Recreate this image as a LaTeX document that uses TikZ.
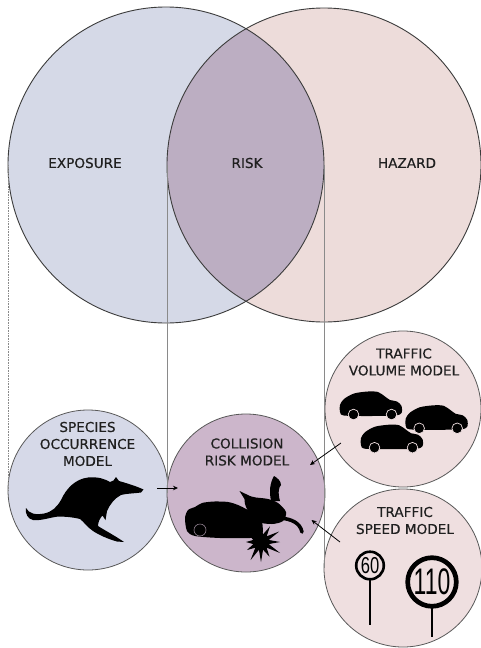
\documentclass[tikz,border=0pt]{standalone}
\usepackage{fontspec}
\usepackage{graphicx}
\setmainfont{DejaVu Sans}
\newfontfamily\lblfont[FakeBold=0.35]{DejaVu Sans}
\newfontfamily\signfont{Liberation Sans}
\usetikzlibrary{arrows.meta}

\definecolor{expo}{HTML}{D5D9E7}
\definecolor{haz}{HTML}{EDDCDA}
\definecolor{lens}{HTML}{BCAEC2}
\definecolor{specfill}{HTML}{D6D9E8}
\definecolor{collfill}{HTML}{CCB6CB}
\definecolor{trafill}{HTML}{EFDFE0}
\definecolor{ink}{HTML}{202020}
\definecolor{rim}{HTML}{3C3C3C}
\definecolor{guide}{HTML}{8A8A8A}

\begin{document}
\begin{tikzpicture}[x=1pt,y=-1pt,
  ring/.style={circle, inner sep=0pt, outer sep=0pt},
  bigline/.style={draw=rim, line width=0.9pt},
  smallc/.style={ring, draw=rim!85, line width=0.8pt},
  lbl/.style={font=\lblfont\fontsize{13.6}{17}\selectfont, text=ink, align=center, inner sep=0pt},
  guideline/.style={draw=guide, line width=0.6pt},
  feed/.style={draw=black, line width=0.8pt, -{Stealth[length=5pt,width=4.5pt]}},
  signtxt/.style={inner sep=0pt, text=black},
  limb/.style={draw=black, line cap=round},
  car/.pic={
    \fill[black] plot[smooth cycle, tension=0.5] coordinates {
      (-31,0) (-27,-6) (-17,-11.5) (-3,-13.5) (7,-13) (14,-8.5) (19,-5)
      (26,-3.5) (30.5,1) (30.5,8) (24,10.5) (-2,11) (-27,10.5) (-31,7)};
    \filldraw[fill=black, draw=trafill, line width=0.7pt] (-17.5,9.5) circle (5.3pt);
    \filldraw[fill=black, draw=trafill, line width=0.7pt] (20.5,9.5) circle (5.3pt);
  }]
\useasboundingbox (0,0) rectangle (481,648);
\fill[white] (0,0) rectangle (481,648);

% --- the two large overlapping circles ---
\node[ring, fill=expo, minimum size=316pt] (exposure) at (166,165) {};
\node[ring, fill=haz, minimum size=314pt] (hazard) at (324,165) {};
\begin{scope}
  \clip (166,165) circle (158pt);
  \fill[lens] (324,165) circle (157pt);
\end{scope}
\draw[bigline] (exposure.center) circle (158pt);
\draw[bigline] (hazard.center) circle (157pt);

\node[lbl] (tExposure) at (85,163) {EXPOSURE};
\node[lbl] (tRisk) at (247,163) {RISK};
\node[lbl] (tHazard) at (407,163) {HAZARD};

% --- model circles ---
\node[smallc, fill=specfill, minimum size=160pt] (species) at (88,490) {};
\node[smallc, fill=collfill, minimum size=158pt] (collision) at (246,493) {};
\node[smallc, fill=trafill, minimum size=156pt] (volume) at (403,409) {};
\node[smallc, fill=trafill, minimum size=158pt] (speed) at (403,568) {};

% --- guide lines from the large circles down to the models ---
\draw[guideline, densely dotted] (exposure.west) -- (species.west);
\draw[guideline] (hazard.west) -- (collision.west);
\draw[guideline] (exposure.east) -- (speed.west);

\node[lbl] (tSpecies) at (87.5,444) {SPECIES\\OCCURRENCE\\MODEL};
\node[lbl] (tCollision) at (247,452) {COLLISION\\RISK MODEL};
\node[lbl] (tVolume) at (404,362) {TRAFFIC\\VOLUME MODEL};
\node[lbl] (tSpeed) at (405,520.5) {TRAFFIC\\SPEED MODEL};

% --- kangaroo ---
\fill[black] (26,508)
  .. controls (29,514) and (36,515) .. (44,513.5)
  .. controls (52,512) and (57,507) .. (61,500)
  .. controls (66,489) and (75,479) .. (88,477.5)
  .. controls (98,476.5) and (105,479) .. (110,482)
  -- (113.5,480.5) -- (116,477) -- (119,481)
  .. controls (126,483) and (136,486) .. (143.5,489.5)
  -- (141,492.5)
  .. controls (134,493.5) and (126,493.5) .. (121,495)
  .. controls (115,498) and (110,504) .. (107,511)
  -- (105.5,520) -- (102.5,515.5)
  .. controls (100,518) and (98,522) .. (98,526)
  .. controls (104,530) and (114,535) .. (124,542)
  -- (117,541.5)
  .. controls (108,539) and (99,535) .. (93,531)
  .. controls (87,527) and (84,522) .. (80,519)
  .. controls (72,517) and (64,516.5) .. (58,516.5)
  .. controls (48,518) and (40,521) .. (33,520)
  .. controls (28,519) and (25,514) .. (26,508) -- cycle;

% --- collision scene: car, burst and tumbling animal ---
\fill[black] plot[smooth cycle, tension=0.45] coordinates {
  (185,518) (188,510) (195,507) (202,503) (214,501.5) (228,502)
  (238,505) (248,510) (256,515) (262,522) (262,535) (250,538)
  (220,538) (195,536) (187,531)};
\filldraw[fill=black, draw=collfill!70!black, line width=0.6pt] (200,530) circle (6pt);
\fill[black, shift={(261,542)}]
  (0:19) -- (15:8) -- (30:22) -- (45:8) -- (60:17) -- (75:8) -- (90:20)
  -- (105:8) -- (120:21) -- (135:8) -- (150:16) -- (165:8) -- (180:15)
  -- (195:8) -- (210:14) -- (225:8) -- (240:16) -- (255:8) -- (270:15)
  -- (285:8) -- (300:18) -- (315:8) -- (330:21) -- (345:8) -- cycle;
% tumbling animal: body, head, tail and legs
\fill[black] plot[smooth cycle, tension=0.5] coordinates {
  (246,496) (256,497.5) (268,499) (278,503) (286,512) (283,521)
  (272,524) (258,522) (250,514) (245,504)};
\fill[black] (239.5,491) -- (251,496.5) -- (247,503) -- cycle;
\fill[black] (271,501) .. controls (269,491) and (270,483) .. (274,476)
  .. controls (277.5,478) and (281,481) .. (281,485)
  .. controls (279,487) and (277.5,492) .. (280,501) -- cycle;
\draw[limb, line width=3.6pt] (280,518) .. controls (292,519) and (300,523) .. (302,532);
\draw[limb, line width=3pt] (256,519) -- (248,532);

% --- traffic volume: three cars ---
\pic at (371,405) {car};
\pic at (436.7,418.8) {car};
\pic at (392,438.2) {car};

% --- speed signs ---
\draw[black, line width=1.2pt] (370,579) -- (370,625);
\draw[black, line width=2.6pt] (370,565.5) circle (13.8pt);
\node[signtxt, font=\signfont\fontsize{23}{23}\selectfont] (n60) at (370,565.5) {\scalebox{0.72}[1]{60}};
\draw[black, line width=2pt] (432,607) -- (432,637);
\draw[black, line width=4.7pt] (432,582) circle (24.3pt);
\node[signtxt, font=\signfont\fontsize{37}{37}\selectfont] (n110) at (432,582) {\scalebox{0.62}[1]{110}};

% --- feeds into the collision risk model ---
\coordinate (fromSpecies) at (157,488);
\coordinate (intoCollW) at (178,488);
\coordinate (fromVolume) at (341,443);
\coordinate (intoCollNE) at (310,465);
\coordinate (fromSpeed) at (340,542);
\coordinate (intoCollSE) at (311.5,520);
\draw[feed] (fromSpecies) -- (intoCollW);
\draw[feed] (fromVolume) -- (intoCollNE);
\draw[feed] (fromSpeed) -- (intoCollSE);
\end{tikzpicture}
\end{document}
